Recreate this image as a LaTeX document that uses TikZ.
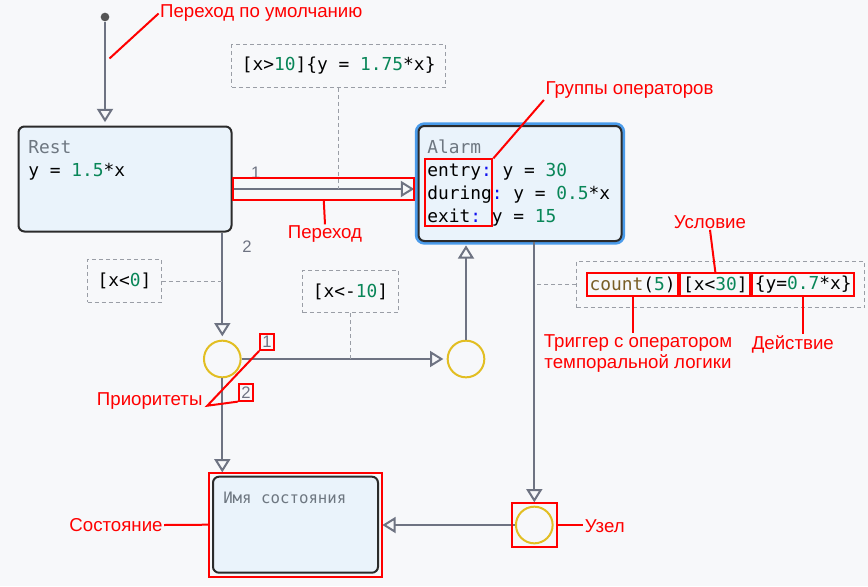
\documentclass[tikz,border=0pt]{standalone}
\usepackage{fontspec}
\setmainfont{Liberation Sans}
\setmonofont{DejaVu Sans Mono}
\usetikzlibrary{arrows.meta,positioning,fit}
\definecolor{bgcol}{HTML}{F7F8FA}
\definecolor{boxfill}{HTML}{EAF3FB}
\definecolor{boxline}{HTML}{2B2B2B}
\definecolor{glow}{HTML}{4A9BEA}
\definecolor{trcol}{HTML}{6E7382}
\definecolor{namecol}{HTML}{6E7781}
\definecolor{numcol}{HTML}{098658}
\definecolor{fncol}{HTML}{795E26}
\definecolor{kwcol}{HTML}{1010F0}
\definecolor{junccol}{HTML}{E2BE22}
\definecolor{notecol}{HTML}{9A9EA6}
\definecolor{initcol}{HTML}{555555}
\newcommand{\cnum}[1]{\textcolor{numcol}{#1}}
\newcommand{\ckw}[1]{\textcolor{kwcol}{#1}}
\tikzset{
  statebox/.style={draw=boxline, fill=boxfill, line width=1.5pt, rounded corners=4.5pt},
  junction/.style={circle, draw=junccol, line width=1.5pt, minimum size=27.5pt, inner sep=0pt},
  trans/.style={draw=trcol, line width=1.5pt, -{Triangle[open, length=10pt, width=12pt]}, shorten >=2.5pt},
  note/.style={draw=notecol, line width=0.75pt, dash pattern=on 3pt off 2.25pt},
  code/.style={font=\ttfamily\fontsize{13.4}{17.25}\selectfont, inner sep=0pt, anchor=base west},
  guard/.style={note, font=\ttfamily\fontsize{13.4}{17.25}\selectfont, inner xsep=7.5pt, minimum height=32pt},
  codebox/.style={draw=red, line width=1.5pt, font=\ttfamily\fontsize{13.4}{17.25}\selectfont, inner xsep=2pt, inner ysep=0pt, minimum height=17.25pt},
  prio/.style={text=trcol, font=\fontsize{12.5}{15}\selectfont, inner sep=0pt},
  redtxt/.style={text=red, font=\fontsize{14}{16}\selectfont, inner sep=1pt},
  redline/.style={draw=red, line width=1.5pt},
  redbox/.style={draw=red, line width=1.5pt, inner sep=0pt}
}
\begin{document}
\begin{tikzpicture}[x=0.75pt, y=-0.75pt]
    % Background
    \useasboundingbox (0,0) rectangle (868,586);
    \fill[bgcol] (0,0) rectangle (868,586);
    % States
    \node[statebox, minimum width=159.75pt, minimum height=78.75pt] (rest) at (125,179) {};
    \node[statebox, minimum width=152.25pt, minimum height=86.25pt, preaction={draw=glow, line width=5.5pt}] (alarm) at (520,183.5) {};
    \node[statebox, minimum width=123.75pt, minimum height=72pt] (state) at (295.5,524.7) {};
    % State texts
    \node[code, text=namecol] (restname) at (28,153) {Rest};
    \node[code] (restdo) at (28,176) {y = \cnum{1.5}*x};
    \node[code, text=namecol] (alarmname) at (427,153) {Alarm};
    \node[code] (entry) at (427,176.5) {entry\ckw{:} y = \cnum{30}};
    \node[code] (during) at (427,199.5) {during\ckw{:} y = \cnum{0.5}*x};
    \node[code] (exit) at (427,222.5) {exit\ckw{:} y = \cnum{15}};
    \node[code, text=namecol, font=\ttfamily\fontsize{11.8}{14}\selectfont] (statename) at (223,503) {Имя состояния};
    % Junctions and default transition
    \node[junction] (j1) at (222.3,359) {};
    \node[junction] (j2) at (466,359) {};
    \node[junction] (j3) at (534.3,525) {};
    \node[circle, fill=initcol, inner sep=0pt, minimum size=6.5pt] (init) at (105,17) {};
    \coordinate (t1a) at (231.5,189);
    % Transitions
    \draw[trans] (init) -- (init |- rest.north);
    \draw[trans] (t1a) -- (t1a -| alarm.west);
    \draw[trans] (rest.south -| j1) -- (j1);
    \draw[trans] (j1) -- (j2);
    \draw[trans] (j2) -- (alarm.south -| j2);
    \draw[trans] (j1) -- (j1 |- state.north);
    \draw[trans] (alarm.south -| j3) -- (j3);
    \draw[trans] (j3) -- (j3 -| state.east);
    % Priorities
    \node[prio] (n1) at (255.7,172.3) {1};
    \node[prio] (n2) at (247,246.7) {2};
    \node[prio] (p1) at (267,342) {1};
    \node[prio] (p2) at (246,392.5) {2};
    % Transition labels
    \node[guard] (g1) at (338.7,66) {[x>\cnum{10}]\{y = \cnum{1.75}*x\}};
    \node[guard] (g2) at (124.5,281) {[x<\cnum{0}]};
    \node[guard] (g3) at (350.5,291.5) {[x<-\cnum{10}]};
    \node[codebox, anchor=west] (cnt) at (586,284.5) {\textcolor{fncol}{count}(\cnum{5})};
    \node[codebox, right=0pt of cnt] (cond) {[x<\cnum{30}]};
    \node[codebox, right=0pt of cond] (act) {\{y=\cnum{0.7}*x\}};
    \node[guard, fit=(cnt)(cond)(act), inner xsep=7pt, inner ysep=8pt] (g4) {};
    \draw[note] (g1.south) -- (g1.south |- t1a);
    \draw[note] (g2.east) -- (g2.east -| j1);
    \draw[note] (g3.south) -- (g3.south |- j1);
    \draw[note] (g4.west) -- (g4.west -| j3);
    % Annotations
    \node[redtxt] (defnote) at (261.3,13.5) {Переход по умолчанию};
    \coordinate (defpt) at (109.5,58.5);
    \draw[redline] (defnote.west) -- (defpt);
    \node[redbox, minimum width=135.75pt, minimum height=16.75pt] (trbox) at (323.8,188.8) {};
    \node[redtxt] (trnote) at (325,234.3) {Переход};
    \draw[redline] (trbox.south) -- (trnote.north);
    \node[redbox, minimum width=50.5pt, minimum height=50pt] (grpbox) at (458.7,192.7) {};
    \node[redtxt] (grpnote) at (629.5,90) {Группы операторов};
    \draw[redline] (grpbox.north east) -- (grpnote.south west);
    \node[redtxt] (condnote) at (710,221.7) {Условие};
    \draw[redline] (cond.north) -- (condnote.south);
    \node[redtxt, align=center] (trignote) at (638,353.7) {Триггер с оператором\\темпоральной логики};
    \draw[redline] (cnt.south) -- (cnt.south |- trignote.north);
    \node[redtxt] (actnote) at (792.8,344) {Действие};
    \draw[redline] (act.south) -- (act.south |- actnote.north);
    \node[redbox, fit=(p1), inner sep=1.5pt] (p1box) {};
    \node[redbox, fit=(p2), inner sep=1.5pt] (p2box) {};
    \node[redtxt] (prionote) at (149.7,401) {Приоритеты};
    \coordinate (priopt) at (207.3,405.7);
    \draw[redline] (p1box.south west) -- (priopt) -- (p2box.south west);
    \node[redbox, fit=(state), inner sep=2.25pt] (statemark) {};
    \node[redtxt] (statenote) at (116,525) {Состояние};
    \draw[redline] (statenote.east) -- (statemark.west);
    \node[redbox, fit=(j3), inner sep=2.25pt] (j3mark) {};
    \node[redtxt] (j3note) at (604.8,526) {Узел};
    \draw[redline] (j3mark.east) -- (j3mark.east -| j3note.west);
\end{tikzpicture}
\end{document}
